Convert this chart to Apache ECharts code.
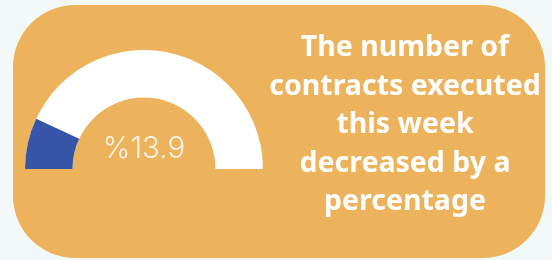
<!DOCTYPE html>
<html><head><meta charset="utf-8">
<script src="https://cdn.jsdelivr.net/npm/echarts@6/dist/echarts.min.js"></script>
<style>html,body{margin:0;padding:0;background:#f3f8f9;}#c{width:552px;height:260px;}</style>
</head><body><div id="c"></div>
<script>
const gaugeValue = 13.9;
const gaugeMin = 0;
const gaugeMax = 100;
const valuePrefix = '%';
const messageLines = ['The number of', 'contracts executed', 'this week', 'decreased by a', 'percentage'];

const chart = echarts.init(document.getElementById('c'), null, {renderer: 'canvas'});
chart.setOption({
  backgroundColor: 'transparent',
  graphic: [
    {type: 'rect', shape: {x: 13, y: 5, width: 532, height: 253, r: 62}, style: {fill: '#edb35c'}, z: -10},
    {type: 'text', x: 405, y: 29, style: {
      text: messageLines.join('\n'), align: 'center', verticalAlign: 'top',
      font: 'bold 28.5px "Noto Sans"', fill: '#ffffff', lineHeight: 38.5
    }}
  ],
  series: [{
    type: 'gauge',
    center: [144, 169],
    radius: 119,
    startAngle: 180, endAngle: 0,
    min: gaugeMin, max: gaugeMax,
    progress: {show: true, width: 47.5, itemStyle: {color: '#3756a7'}},
    axisLine: {lineStyle: {width: 47.5, color: [[1, '#ffffff']]}},
    pointer: {show: false}, anchor: {show: false},
    axisTick: {show: false}, splitLine: {show: false}, axisLabel: {show: false},
    title: {show: false},
    detail: {
      offsetCenter: [0, -20], formatter: v => valuePrefix + v,
      fontFamily: 'Inter', fontWeight: 300, fontSize: 29.5, color: '#fdf4e6'
    },
    data: [{value: gaugeValue}]
  }]
});
</script></body></html>
